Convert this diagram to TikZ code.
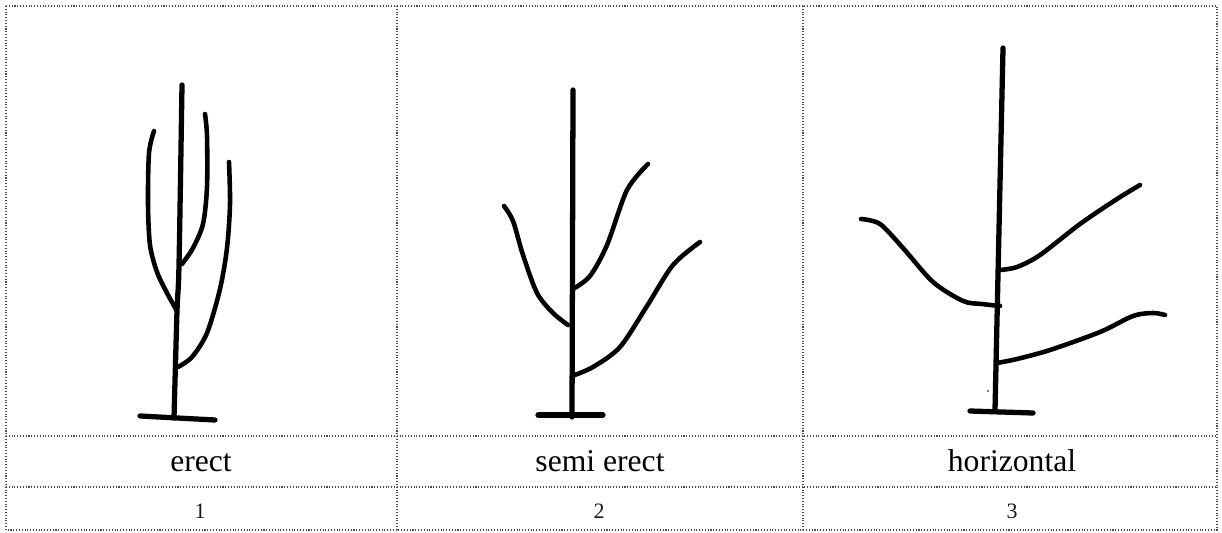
\documentclass[tikz,border=0pt]{standalone}
\usepackage{fontspec}
\setmainfont{Liberation Serif}

\tikzset{
  rule/.style={densely dotted, line width=0.6pt, color=black!70},
  stem/.style={line width=3pt, line cap=round, line join=round},
  branch/.style={line width=2.6pt, line cap=round, line join=round},
  habit/.style={anchor=base, inner sep=0pt, text=black, font=\fontsize{18}{20}\selectfont},
  num/.style={anchor=base, inner sep=0pt, text=black!90, font=\fontsize{12.5}{14}\selectfont}
}

\begin{document}
\begin{tikzpicture}[x=0.02cm, y=-0.02cm]
\useasboundingbox (0,0) rectangle (1222,533);

% table lines
\draw[rule] (6,6) rectangle (1217,530);
\draw[rule] (397,6) -- (397,530);
\draw[rule] (803,6) -- (803,530);
\draw[rule] (6,436) -- (1217,436);
\draw[rule] (6,487) -- (1217,487);

% row of names and row of numbers
\node[habit] (erect) at (201,471) {erect};
\node[habit] (semi) at (600,471) {semi erect};
\node[habit] (horiz) at (1012,471) {horizontal};
\node[num] (one) at (200,518) {1};
\node[num] (two) at (599,518) {2};
\node[num] (three) at (1012,518) {3};

% erect
\draw[stem] plot[smooth] coordinates {(182,85) (179,265) (177,311) (174,418)};
\draw[stem] (140,416) -- (215,420);
\draw[branch] plot[smooth] coordinates {(177,311) (167,293) (157,272) (150,245) (148,204) (149,153) (154,131)};
\draw[branch] plot[smooth] coordinates {(182,264) (193,248) (203,224) (207,187) (207,136) (205,114)};
\draw[branch] plot[smooth] coordinates {(178,367) (192,357) (207,333) (220,289) (227,248) (230,204) (229,162)};

% semi erect
\draw[stem] (573,90) -- (572,417);
\draw[stem] (538,415) -- (603,415);
\draw[branch] plot[smooth] coordinates {(504,206) (513,221) (523,255) (537,293) (553,313) (568,325)};
\draw[branch] plot[smooth] coordinates {(573,289) (590,276) (607,245) (627,190) (648,164)};
\draw[branch] plot[smooth] coordinates {(572,376) (593,367) (620,347) (647,306) (673,265) (700,242)};

% horizontal
\draw[stem] (1003,48) -- (995,410);
\draw[stem] (970,411) -- (1033,413);
\draw[branch] plot[smooth] coordinates {(861,219) (880,224) (903,248) (933,282) (963,301) (982,304) (1000,306)};
\draw[branch] plot[smooth] coordinates {(1000,270) (1017,267) (1040,255) (1080,224) (1117,199) (1140,185)};
\draw[branch] plot[smooth] coordinates {(997,363) (1017,359) (1050,350) (1100,332) (1133,316) (1153,313) (1165,315)};
\fill[black!70] (988,391) circle (1.2);
\end{tikzpicture}
\end{document}
